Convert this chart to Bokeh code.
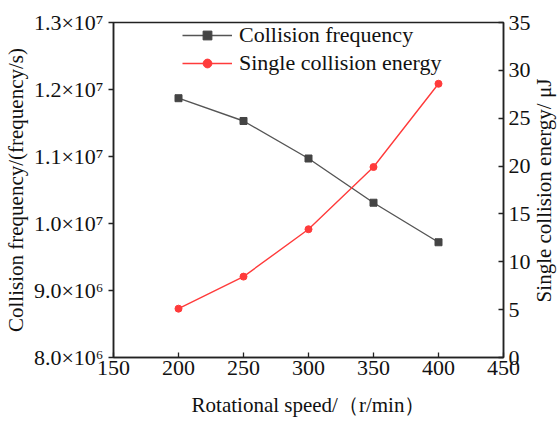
import math
from bokeh.plotting import figure
from bokeh.models import Range1d, LinearAxis, Legend, LegendItem, FixedTicker, Label
from bokeh.embed import file_html
from bokeh.resources import INLINE

# Rotational speed (r/min)
speed = [200, 250, 300, 350, 400]
# Collision frequency (1/s)
collision_frequency = [1.187e7, 1.153e7, 1.097e7, 1.031e7, 9.72e6]
# Single collision energy (μJ)
single_energy = [5.1, 8.45, 13.4, 19.9, 28.6]

x_ticks = [150, 200, 250, 300, 350, 400, 450]
left_ticks = [8.0e6, 9.0e6, 1.0e7, 1.1e7, 1.2e7, 1.3e7]
left_tick_labels = ["8.0×10⁶", "9.0×10⁶", "1.0×10⁷", "1.1×10⁷", "1.2×10⁷", "1.3×10⁷"]
right_ticks = [0, 5, 10, 15, 20, 25, 30, 35]

FONT = "Liberation Serif"
GREY = "#555555"
RED = "#ff3b3b"

p = figure(width=560, height=425, output_backend="svg", toolbar_location=None,
           x_range=Range1d(150, 450), y_range=Range1d(8.0e6, 1.3e7),
           min_border_left=110, min_border_right=57, min_border_top=22,
           min_border_bottom=68)
p.extra_y_ranges = {"energy": Range1d(0, 35)}

p.xgrid.visible = False
p.ygrid.visible = False
p.outline_line_color = "#222222"
p.outline_line_width = 1.5
p.background_fill_color = "white"
p.border_fill_color = "white"


def style_axis(ax, tick_in, tick_out):
    ax.axis_line_color = "#222222"
    ax.axis_line_width = 1.5
    ax.major_tick_line_color = "#222222"
    ax.major_tick_line_width = 1.3
    ax.major_tick_in = tick_in
    ax.major_tick_out = tick_out
    ax.minor_tick_line_color = None
    ax.major_label_text_font = FONT
    ax.major_label_text_font_size = "22px"
    ax.major_label_text_color = "#111111"
    ax.axis_label_text_font = FONT
    ax.axis_label_text_font_size = "21px"
    ax.axis_label_text_font_style = "normal"
    ax.axis_label_text_color = "#111111"


# bottom axis
xa = p.xaxis[0]
xa.ticker = FixedTicker(ticks=x_ticks)
xa.axis_label = "Rotational speed/（r/min）"
style_axis(xa, 5, 0)
xa.major_label_standoff = 3
xa.axis_label_standoff = 15

# left axis
ya = p.yaxis[0]
ya.ticker = FixedTicker(ticks=left_ticks)
ya.major_label_overrides = {t: s for t, s in zip(left_ticks, left_tick_labels)}
ya.axis_label = "Collision frequency/(frequency/s)"
style_axis(ya, 0, 5)
ya.major_label_standoff = 5
ya.axis_label_standoff = 3

# right axis for energy
ra = LinearAxis(y_range_name="energy", ticker=FixedTicker(ticks=right_ticks))
style_axis(ra, 5, 0)
ra.major_label_standoff = 5
p.add_layout(ra, "right")

# right-hand title in the side panel, reading bottom-to-top like the left one
energy_title = Label(x=10, y=167, x_units="screen", y_units="screen",
                     text="Single collision energy/ μJ", angle=math.pi / 2,
                     text_align="center", text_baseline="middle",
                     text_font=FONT, text_font_size="21px", text_color="#111111")
p.add_layout(energy_title, "right")

# series
f_line = p.line(speed, collision_frequency, line_color=GREY, line_width=1.4)
f_mark = p.scatter(speed, collision_frequency, marker="square", size=7,
                   fill_color="#444444", line_color="#444444")
e_line = p.line(speed, single_energy, line_color=RED, line_width=1.4,
                y_range_name="energy")
e_mark = p.scatter(speed, single_energy, marker="circle", size=7,
                   fill_color=RED, line_color=RED, y_range_name="energy")

legend = Legend(items=[
    LegendItem(label="Collision frequency", renderers=[f_line, f_mark]),
    LegendItem(label="Single collision energy", renderers=[e_line, e_mark]),
], location=(69, 281))
legend.background_fill_alpha = 0
legend.border_line_color = None
legend.label_text_font = FONT
legend.label_text_font_size = "22px"
legend.label_text_color = "#111111"
legend.glyph_width = 50
legend.glyph_height = 22
legend.label_height = 22
legend.label_standoff = 7
legend.spacing = 2
legend.padding = 0
legend.margin = 0
p.add_layout(legend)

open("out.html", "w").write(file_html(p, INLINE))
